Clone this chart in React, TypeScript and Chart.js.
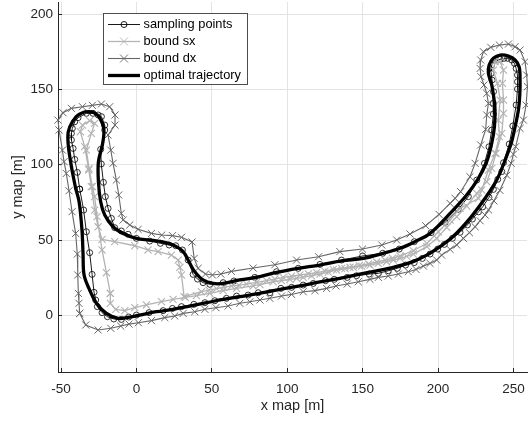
import React, { useEffect, useRef } from "react";
import { Chart, registerables } from "chart.js";

Chart.register(...registerables);

const xTicks = [-50, 0, 50, 100, 150, 200, 250];
const yTicks = [0, 50, 100, 150, 200];

const samplingX = [-37.6,-35,-33.2,-31,-29.4,-28.1,-27,-25.9,-22.8,-19.2,-15,-10,-5.1,0,8.4,17.7,23.9,29.9,38.1,45.4,52,59.7,66.4,74.1,80.8,88.5,95.8,102.9,110.6,117.3,125.4,131.2,139.8,146,154.4,160.4,167,173,178.5,184.2,189.6,194.7,199.8,204.2,209.5,214.6,219.5,222.8,226.8,229.6,233.8,236.7,239.6,242.3,243.4,247.2,249.6,251.8,252.7,252.7,252.7,251.8,250.7,248.9,246.2,243.8,241.2,237.8,235.6,235.2,235.8,236.8,236.7,236.7,235.6,233.8,230.8,225.7,220.1,213.5,204.7,195.4,184.3,174.3,163.3,150,136,121.7,107.3,92.9,78.5,64.6,57.5,48.7,44.2,40.5,37.6,34.3,30.5,26.1,21.7,15.9,8.8,0,-5.5,-10,-14.4,-16.6,-18.8,-20.6,-21.9,-23.3,-23.7,-21,-21,-23.2,-25.4,-28.8,-33.2,-38.7,-40.9,-42.5,-43.1,-43.1,-42,-40.9,-39.2,-37.6];
const samplingY = [83.8,69.9,55.5,41.6,27.2,15.3,10.2,5.8,1.8,-0.9,-2.4,-2.7,-1.1,0.2,1.8,3.1,4.6,5.8,7.3,8.4,9.7,11.3,12.8,13.5,15,15,17.9,18.6,20.1,21.2,23,23.9,25.2,26.3,27.4,27.9,29.6,31.2,33.4,35,37.8,40.7,44,47.1,51.1,55.1,60,63.9,68.7,72,78.3,83.6,90.3,95.4,101.3,113.7,125.7,139.6,150.2,155.1,159.5,163.9,167.3,169.5,170.6,170.6,169.9,169.5,166.2,160.6,156.2,148.5,140.7,133.6,123,111.9,100.9,89.8,78.8,70.4,61.7,54.9,48.9,44,41.2,39.4,36.7,33.8,31.2,29,25.2,22.8,21.7,20.6,21.7,24.1,27.2,36.7,43.4,46.2,46.7,47.8,49.3,51.1,53.8,56,58.2,64.4,71,78.8,88.3,100.5,110.2,123,126.3,131.9,133,134.1,134.1,131.2,128.5,124.1,120.8,116.4,110.8,103.5,94.9,83.8];

const sxX = [-17.3,-17.3,-13.7,-7.7,-1.1,6.6,16.6,24.3,32.5,39.8,48.7,57.5,66.4,77.4,81.9,90.7,96.2,101.8,106.3,110.6,116.1,121.7,127.2,132.7,138.3,143.8,149.3,154.9,160.4,165.9,170.3,174.8,179.2,183.6,192.6,199.1,205.8,212.4,219,225.7,232.3,235.6,238.5,242.3,243.4,243.4,242.7,243.4,241.2,237.8,236.7,239.4,241.2,240,240.7,237.8,233.4,229,226.8,214.6,208,200.2,192.6,183.6,174.8,169.8,164.8,159.3,153.8,147.7,141.6,136,130.5,125,119.5,114,108.4,102.8,97.3,91.8,86.3,79.6,73,68,63,58,53.1,48.1,43.1,31.6,29.9,28.8,27.7,23.2,14.4,7.7,-1.1,-14.4,-22.8,-25.4,-27.7,-29.9,-31.6,-34.3,-37.2,-35.8,-31,-27.7,-29.9,-33.2,-31.4,-29.2,-27.7,-26.1,-22.8,-19.9,-17.3];
const sxY = [14.6,8,4,3.1,5.1,6.9,9.1,10.6,11.9,13.1,14.6,16.4,17.9,19.5,20.4,22.3,23.1,23.9,24.6,25.2,26.3,27.4,28.7,30.1,31,31.9,32.7,33.4,34.5,35.6,36.7,37.8,39.2,40.7,45.6,51.1,58.4,65.5,72.6,81,88.7,97.6,107.5,120.8,134.1,142.9,154,162.8,168.4,168.4,162.8,154,142.9,129.6,118.6,107.5,96.5,83.2,77.7,71,63.3,55.5,47.8,42.9,39.4,38,36.7,35.4,34.1,33,31.9,31.2,30.5,29.4,28.3,27.5,26.8,26,25.2,24.1,23,21.9,20.8,20.1,19.5,18.6,17.7,16.7,15.7,12.4,26.8,31.9,36.7,40,42.3,43.4,46.2,48.9,50.4,58.8,69.9,85.4,96.5,112,121.9,126.3,129.2,127.4,120.8,109.7,97.6,85.4,78.8,65.5,43.4,28.3,14.6];

const dxX = [-37.6,-33.6,-25.4,-17,-10.4,-4.9,1.3,10,18.8,25.4,31,38.7,45.4,52.7,60.8,68.6,75.2,81.9,88.5,96.2,102.9,110.6,118.4,126.1,132.3,139.8,147.1,154.9,160.4,167,173.7,180.3,185.4,190.3,194.7,199.1,202.4,208,212.4,216.8,220.8,224.6,227.9,231.2,233.5,237,241,245.6,248.5,250,251.5,254.4,256.6,258.4,259.3,258.8,257.7,254.4,251.1,246.7,240.7,235,230.1,228.3,227.9,228.5,230.5,232.3,233.4,232.3,231.6,228.3,224.6,221.2,215,211.3,208,200.7,191.8,181.4,172.6,162.7,149.9,134.9,120.8,106.2,91.8,77.4,63,56,50.4,45.8,40.9,38.3,36.9,29.9,23.9,16.8,10,1.1,-4.4,-8.8,-10,-11.7,-13.3,-15.5,-17,-18.8,-14.2,-14.2,-17.7,-23.2,-29.2,-35.8,-43.1,-48.7,-52,-51.3,-49.1,-48,-46.5,-44.7,-42.7,-40.3,-39.2,-38.9,-38.5,-38.1,-37.6];
const dxY = [1.3,-6.4,-9.7,-8.6,-7.1,-5.8,-4.9,-3.5,-1.5,-0.4,1.3,2.4,4,5.1,6.2,8,9,10.2,11.3,12.8,13.9,15.7,16.4,17.9,19.5,20.8,22.3,23.9,25.2,26.1,27.4,29,30.5,32.7,34.5,36.7,40,43.8,46.7,51.1,54.9,58.8,62.8,66.6,70,76,83,93,101,107,112,124.1,129.6,139.6,151.8,159.5,168.4,176.1,178.3,180.1,179.4,177.9,175,169.5,163.9,158.4,152.9,147.3,140.7,133,123.5,113.1,100.9,92,82.1,77.7,74.3,67,59.5,54,50,46.7,44,42.3,38.9,36.7,33.6,31.4,29.2,27.4,26.8,27.4,31.2,37.8,48.7,51.8,52.9,53.3,54.4,57.1,60,63.3,67.7,79.9,89.8,100.9,109.7,119.7,126.3,133,138.5,140.3,139.4,138.5,137.4,134.5,129.6,123,109.7,102,94.2,82.7,68.8,54.4,40.7,26.8,14.6,8,1.3];

const optimalX = [-40.3,-38,-36.1,-35.4,-34.7,-31,-26.5,-19.9,-12.2,-5.5,2.2,13.3,24.3,35.4,46.5,57.5,68.6,79.6,95.1,108.4,121.7,134.9,148.2,159.3,170.4,181.4,192.5,201.3,210.2,221.2,231.2,238.9,244.5,248.5,251.1,253.3,254.2,254.4,253.8,251.1,246.7,241.2,236.7,233.9,233.4,235.6,237.2,237.8,237.4,235.6,232.3,226.8,219,208,194.7,184.7,174.8,163.7,150.4,136,121.7,107.3,92.9,81.9,68.6,57.5,50.9,44.2,38.7,35.4,31,24.3,16.6,8.8,0,-8.8,-15.5,-21,-23.7,-25.2,-25.2,-22.6,-21.5,-22.6,-25.9,-31.4,-38.1,-42.5,-45.2,-45.2,-42.9,-40.3];
const optimalY = [84.3,75.4,56.6,41.2,26.8,16.8,8,1.3,-2,-1.3,0.2,2.4,4,6.2,8.4,10.6,12.4,14.2,17.3,19.5,22.3,24.6,27.4,29.6,31.9,35,40,45.6,52.5,64.4,77.7,89.8,103.1,114.2,125.2,136.3,146,156.2,165,169.5,172.1,172.8,170.6,166.2,160.6,152.9,142.9,136.3,125.2,114.2,102,90.9,79.9,67.7,54.4,48.9,44.5,41.2,37.8,36.1,33.4,31.2,28.5,25.7,23.5,21.2,21.2,23.5,29,34.5,42.3,46.7,48.9,50,51.1,54.4,58.8,66.6,75.4,88.7,102,113,121.9,127.4,133,135.2,133.4,128.5,121.9,113,97.6,84.3];

const zip = (xs: number[], ys: number[]) => xs.map((x, i) => ({ x, y: ys[i] }));

const INK = "#262626";
const FONT = "'Liberation Sans', Arial, sans-serif";

const legendPlugin = {
  id: "boxLegend",
  afterDraw(chart: any) {
    const { ctx } = chart;
    ctx.save();
    ctx.fillStyle = "#ffffff";
    ctx.fillRect(103.5, 13.5, 144, 71);
    ctx.strokeStyle = "#4d4d4d";
    ctx.lineWidth = 1;
    ctx.strokeRect(103.5, 13.5, 144, 71);
    const rows = [24.5, 41.5, 58.5, 75.5];
    chart.data.datasets.forEach((ds: any, i: number) => {
      const y = rows[i];
      ctx.strokeStyle = ds.borderColor;
      ctx.lineWidth = ds.borderWidth;
      ctx.beginPath();
      ctx.moveTo(108, y);
      ctx.lineTo(140, y);
      ctx.stroke();
      const cx = 124;
      ctx.lineWidth = 0.9;
      if (ds.pointStyle === "circle") {
        ctx.beginPath();
        ctx.arc(cx, y, ds.pointRadius, 0, Math.PI * 2);
        ctx.stroke();
      } else if (ds.pointStyle === "crossRot") {
        const r = ds.pointRadius * 0.8;
        ctx.beginPath();
        ctx.moveTo(cx - r, y - r);
        ctx.lineTo(cx + r, y + r);
        ctx.moveTo(cx - r, y + r);
        ctx.lineTo(cx + r, y - r);
        ctx.stroke();
      }
      ctx.fillStyle = "#000000";
      ctx.font = `12.8px ${FONT}`;
      ctx.textBaseline = "middle";
      ctx.textAlign = "left";
      ctx.fillText(ds.label, 143.5, y);
    });
    ctx.restore();
  },
};

export default function App() {
  const ref = useRef<HTMLCanvasElement>(null);
  useEffect(() => {
    const axisCommon = {
      type: "linear" as const,
      grid: {
        color: "#e3e3e3",
        lineWidth: 1,
        drawTicks: true,
        tickLength: -4,
        tickColor: INK,
        tickWidth: 1,
      },
      border: { color: INK, width: 1 },
    };
    const chart = new Chart(ref.current!, {
      type: "scatter",
      plugins: [legendPlugin],
      data: {
        datasets: [
          {
            label: "sampling points",
            data: zip(samplingX, samplingY),
            showLine: true,
            clip: false,
            borderColor: "#000000",
            backgroundColor: "rgba(0,0,0,0)",
            borderWidth: 0.9,
            pointStyle: "circle",
            pointRadius: 3,
            pointBorderColor: "#000000",
            pointBorderWidth: 0.8,
            pointBackgroundColor: "rgba(0,0,0,0)",
            order: 4,
          },
          {
            label: "bound sx",
            data: zip(sxX, sxY),
            showLine: true,
            clip: false,
            borderColor: "#b3b3b3",
            backgroundColor: "#b3b3b3",
            borderWidth: 1.3,
            pointStyle: "crossRot",
            pointRadius: 5,
            pointBorderColor: "#b3b3b3",
            pointBorderWidth: 1.1,
            order: 3,
          },
          {
            label: "bound dx",
            data: zip(dxX, dxY),
            showLine: true,
            clip: false,
            borderColor: "#666666",
            backgroundColor: "#666666",
            borderWidth: 1.1,
            pointStyle: "crossRot",
            pointRadius: 5,
            pointBorderColor: "#666666",
            pointBorderWidth: 1,
            order: 2,
          },
          {
            label: "optimal trajectory",
            data: zip(optimalX, optimalY),
            showLine: true,
            clip: false,
            borderColor: "#000000",
            backgroundColor: "#000000",
            borderWidth: 3.3,
            tension: 0.35,
            pointRadius: 0,
            order: 1,
          },
        ],
      },
      options: {
        responsive: false,
        animation: false,
        events: [],
        layout: { autoPadding: false, padding: { top: 2, right: 1, left: 0, bottom: 0 } },
        plugins: { legend: { display: false }, tooltip: { enabled: false } },
        scales: {
          x: {
            ...axisCommon,
            min: -52,
            max: 259,
            afterBuildTicks: (s: any) => {
              s.ticks = xTicks.map((value) => ({ value }));
            },
            afterFit: (s: any) => {
              s.height = 54;
              s.paddingLeft = 0;
              s.paddingRight = 0;
            },
            ticks: {
              color: INK,
              font: { family: FONT, size: 13.5 },
              maxRotation: 0,
              padding: 13,
              autoSkip: false,
              callback: (v: any) => String(v),
            },
            title: {
              display: true,
              text: "x map [m]",
              color: INK,
              font: { family: FONT, size: 14.5 },
              padding: { top: 0, bottom: 11 },
            },
          },
          y: {
            ...axisCommon,
            min: -37.6,
            max: 208,
            afterBuildTicks: (s: any) => {
              s.ticks = yTicks.map((value) => ({ value }));
            },
            afterFit: (s: any) => {
              s.width = 58;
              s.paddingTop = 0;
              s.paddingBottom = 0;
            },
            ticks: {
              color: INK,
              font: { family: FONT, size: 13.5 },
              padding: 9,
              autoSkip: false,
              callback: (v: any) => String(v),
            },
            title: {
              display: true,
              text: "y map [m]",
              color: INK,
              font: { family: FONT, size: 14.5 },
              padding: { top: 9, bottom: 0 },
            },
          },
        },
      },
    } as any);
    return () => chart.destroy();
  }, []);
  return (
    <canvas
      ref={ref}
      width={528}
      height={426}
      style={{ position: "absolute", left: 0, top: 0, width: 528, height: 426, display: "block" }}
    />
  );
}
